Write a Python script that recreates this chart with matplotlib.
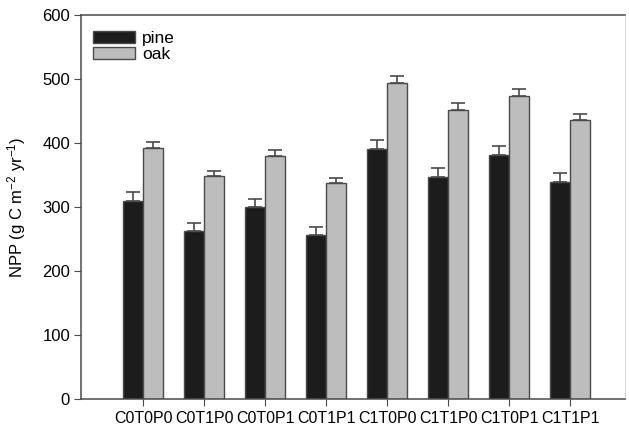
import numpy as np
import matplotlib.pyplot as plt

plt.rcParams['font.family'] = ['Liberation Sans', 'DejaVu Sans']
plt.rcParams['mathtext.fontset'] = 'custom'
plt.rcParams['mathtext.rm'] = 'Liberation Sans'
plt.rcParams['mathtext.default'] = 'regular'

treatments = ["C0T0P0", "C0T1P0", "C0T0P1", "C0T1P1", "C1T0P0", "C1T1P0", "C1T0P1", "C1T1P1"]
pine = [309, 263, 300, 257, 390, 347, 381, 339]
pine_se = [14, 12, 13, 12, 14, 14, 14, 14]
oak = [392, 349, 379, 337, 494, 452, 474, 436]
oak_se = [10, 8, 10, 9, 11, 10, 11, 10]

fig = plt.figure(figsize=(6.29, 4.29), dpi=100)
ax = fig.add_axes([0.129, 0.070, 0.865, 0.895])

x = np.arange(len(treatments))
w = 0.33
edge = "#4a4a4a"
err_kw = dict(ecolor=edge, elinewidth=1.2, capsize=5, capthick=1.2)

ax.bar(x - w / 2, pine, w, color="#1c1c1c", edgecolor=edge, linewidth=1.0,
       yerr=[np.zeros(len(pine)), pine_se], error_kw=err_kw, label="pine")
ax.bar(x + w / 2, oak, w, color="#bdbdbd", edgecolor=edge, linewidth=1.0,
       yerr=[np.zeros(len(oak)), oak_se], error_kw=err_kw, label="oak")

ax.set_xlim(-1.02, 7.9)
ax.set_ylim(0, 600)
ax.set_yticks(np.arange(0, 601, 100))
ax.set_xticks(x)
ax.set_xticklabels(treatments, fontsize=11.5)
ax.tick_params(axis="y", labelsize=12, direction="out", length=5, color=edge, pad=3)
ax.tick_params(axis="x", direction="out", length=5, color=edge, pad=4)
ax.set_ylabel("NPP (g C m$^{-2}$ yr$^{-1}$)", fontsize=12, labelpad=10)

for s in ["left", "bottom", "top"]:
    ax.spines[s].set_color(edge)
    ax.spines[s].set_linewidth(1.1)
ax.spines["right"].set_color("#dddddd")

ax.legend(loc="upper left", frameon=False, fontsize=12.5, handlelength=2.4,
          handleheight=0.7, labelspacing=0.05, borderaxespad=0.3,
          handletextpad=0.4, bbox_to_anchor=(0.0, 0.99))

fig.savefig("out.png", dpi=100)
